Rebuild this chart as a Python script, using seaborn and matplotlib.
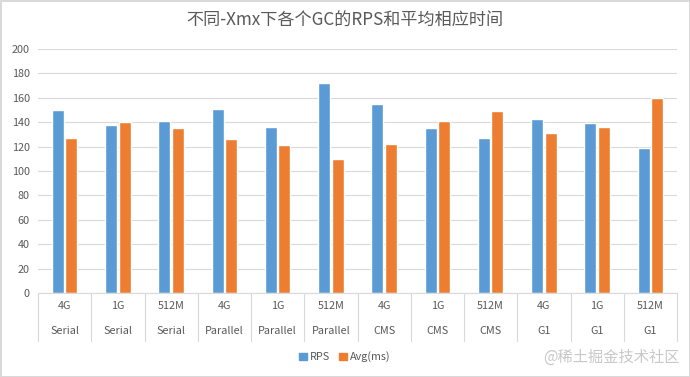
import matplotlib
matplotlib.use("Agg")
import matplotlib.pyplot as plt
import seaborn as sns
import pandas as pd
import numpy as np

sizes = ["4G", "1G", "512M", "4G", "1G", "512M", "4G", "1G", "512M", "4G", "1G", "512M"]
gcs = ["Serial", "Serial", "Serial", "Parallel", "Parallel", "Parallel",
       "CMS", "CMS", "CMS", "G1", "G1", "G1"]
rps = [150, 138, 141, 151, 136, 172, 155, 135, 127, 143, 139, 119]
avg_ms = [127, 140, 135, 126, 121, 110, 122, 141, 149, 131, 136, 160]
series_names = ["RPS", "Avg(ms)"]
title = "不同-Xmx下各个GC的RPS和平均相应时间"
yticks = [0, 20, 40, 60, 80, 100, 120, 140, 160, 180, 200]

sns.set_theme(style="white")
plt.rcParams["font.family"] = ["Noto Sans CJK SC", "DejaVu Sans"]

cats = [f"{s}|{g}|{i}" for i, (s, g) in enumerate(zip(sizes, gcs))]
df = pd.DataFrame({
    "cat": cats * 2,
    "value": rps + avg_ms,
    "series": [series_names[0]] * len(cats) + [series_names[1]] * len(cats),
})

fig = plt.figure(figsize=(6.9, 3.77), dpi=100)
fig.patch.set_facecolor("white")
fig.patch.set_edgecolor("#d9d9d9")
fig.patch.set_linewidth(1.0)
ax = fig.add_axes([38 / 690, 1 - 293 / 377, (677 - 38) / 690, (293 - 49) / 377])

sns.barplot(data=df, x="cat", y="value", hue="series", order=cats,
            palette=["#5B9BD5", "#ED7D31"], width=0.5, gap=0.1,
            ax=ax, legend=False, saturation=1)

ax.set_ylim(0, 200)
ax.set_xlim(-0.5, len(cats) - 0.5)
ax.set_yticks(yticks)
ax.set_yticklabels([str(t) for t in yticks], fontsize=7.8, color="#595959")
ax.yaxis.grid(True, color="#d9d9d9", linewidth=0.8)
ax.set_axisbelow(True)
for s in ["top", "right", "left"]:
    ax.spines[s].set_visible(False)
ax.spines["bottom"].set_color("#d9d9d9")
ax.spines["bottom"].set_linewidth(0.8)
ax.tick_params(axis="y", length=0, pad=6)
ax.tick_params(axis="x", length=0)
ax.set_xticks(range(len(cats)))
ax.set_xticklabels([])
ax.set_xlabel("")
ax.set_ylabel("")

trans = matplotlib.transforms.blended_transform_factory(ax.transData, ax.transAxes)
h = 244.0
for i in range(len(cats) + 1):
    ax.plot([i - 0.5, i - 0.5], [0, -48 / h], transform=trans, color="#d9d9d9",
            linewidth=0.8, clip_on=False)
for i, (s, g) in enumerate(zip(sizes, gcs)):
    ax.text(i, -13 / h, s, transform=trans, ha="center", va="center",
            fontsize=7.8, color="#595959")
    ax.text(i, -38 / h, g, transform=trans, ha="center", va="center",
            fontsize=7.8, color="#595959")

fig.text(0.5, 1 - 20 / 377, title, ha="center", va="center", fontsize=12.3,
         color="#595959")

handles = [plt.Rectangle((0, 0), 1, 1, color="#5B9BD5"),
           plt.Rectangle((0, 0), 1, 1, color="#ED7D31")]
leg = fig.legend(handles, series_names, loc="center", ncol=2,
                 bbox_to_anchor=(0.5, 1 - 357 / 377), frameon=False,
                 fontsize=7.8, handlelength=0.7, handleheight=0.7,
                 handletextpad=0.3, columnspacing=0.8)
for t in leg.get_texts():
    t.set_color("#595959")

fig.text(1 - 10 / 690, 1 - 357 / 377, "@稀土掘金技术社区", ha="right", va="center",
         fontsize=11, color="#c8c8c8")

fig.savefig("out.png", dpi=100, facecolor=fig.get_facecolor(),
            edgecolor=fig.get_edgecolor())
